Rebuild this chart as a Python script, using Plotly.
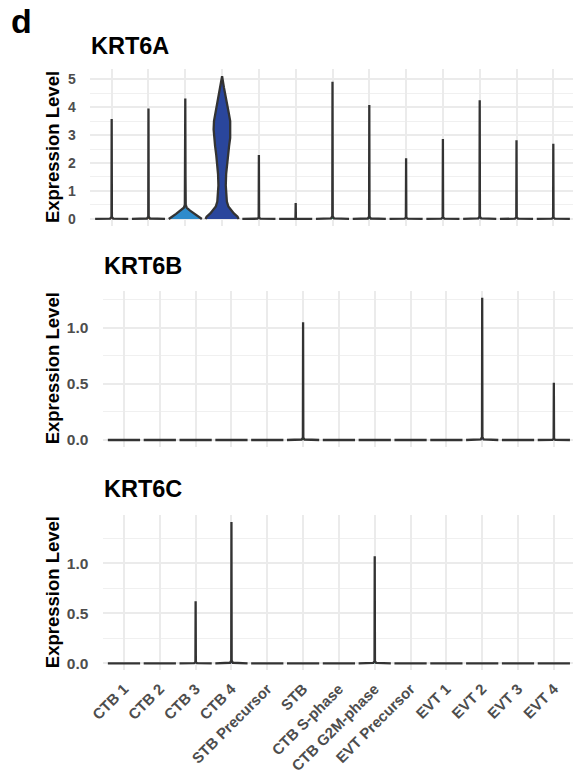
import plotly.graph_objects as go

# ---------------- data ----------------
categories = ["CTB 1", "CTB 2", "CTB 3", "CTB 4", "STB Precursor", "STB",
              "CTB S-phase", "CTB G2M-phase", "EVT Precursor",
              "EVT 1", "EVT 2", "EVT 3", "EVT 4"]

genes = ["KRT6A", "KRT6B", "KRT6C"]

# maximum expression (top of each violin)
krt6a_max = [3.57, 3.95, 4.30, 5.10, 2.29, 0.57, 4.90, 4.07, 2.17, 2.86, 4.24, 2.81, 2.69]
krt6b_max = [0, 0, 0, 0, 0, 1.05, 0, 0, 0, 0, 1.27, 0, 0.51]
krt6c_max = [0, 0, 0.62, 1.41, 0, 0, 0, 1.07, 0, 0, 0, 0, 0]

# density profiles (level, half-width in category units) of the visibly shaped violins
ctb3_a_levels = [0.0, 0.08, 0.18, 0.30, 0.40, 0.50, 1.50, 4.30]
ctb3_a_widths = [0.45, 0.36, 0.25, 0.13, 0.04, 0.012, 0.006, 0.0]

ctb4_a_levels = [0.0, 0.08, 0.20, 0.32, 0.45, 0.62, 0.90, 1.20, 1.60, 1.90,
                 2.30, 2.60, 2.90, 3.20, 3.50, 3.80, 4.10, 4.40, 4.70, 5.10]
ctb4_a_widths = [0.45, 0.42, 0.32, 0.24, 0.17, 0.13, 0.11, 0.10, 0.11, 0.13,
                 0.16, 0.19, 0.22, 0.23, 0.22, 0.18, 0.13, 0.09, 0.05, 0.0]

# generic profile of the nearly-all-zero violins (fraction of max for levels)
spike_level_frac = [0.0, 0.004, 0.02, 1.0]
spike_widths = [0.45, 0.04, 0.006, 0.0]

fill_colors = ["#F8766D", "#E18A00", "#2E8BCB", "#2A469C", "#7CAE00", "#0CB702",
               "#00BE67", "#00C19A", "#00BFC4", "#00B8E7", "#8494FF", "#ED68ED", "#FF68A1"]

# ---------------- layout geometry (pixels) ----------------
W, H = 573, 778
panels = [
    dict(x0=89.6, top=69.1, bot=226.1, yr=[-0.255, 5.355], tv=[0, 1, 2, 3, 4, 5],
         tt=["0", "1", "2", "3", "4", "5"], minor=0.5, tsize=14, title_x=89, title_y=45.5),
    dict(x0=102.5, top=290.6, bot=447.1, yr=[-0.0635, 1.3335], tv=[0, 0.5, 1.0],
         tt=["0.0", "0.5", "1.0"], minor=0.25, tsize=15.5, title_x=102.3, title_y=266),
    dict(x0=102.5, top=515.0, bot=670.4, yr=[-0.0705, 1.4805], tv=[0, 0.5, 1.0],
         tt=["0.0", "0.5", "1.0"], minor=0.25, tsize=15.5, title_x=102.3, title_y=489),
]
maxes = [krt6a_max, krt6b_max, krt6c_max]

fig = go.Figure()
LINE = "#333333"
FONT = "Liberation Sans, Arial, sans-serif"


def violin_poly(i, levels, widths):
    xs = [i + w for w in widths] + [i - w for w in reversed(widths)]
    ys = list(levels) + list(reversed(levels))
    return xs, ys


for p, (pan, mx) in enumerate(zip(panels, maxes)):
    ax = "" if p == 0 else str(p + 1)
    for i, m in enumerate(mx):
        if p == 0 and i == 2:
            xs, ys = violin_poly(i, ctb3_a_levels, ctb3_a_widths)
        elif p == 0 and i == 3:
            xs, ys = violin_poly(i, ctb4_a_levels, ctb4_a_widths)
        elif m > 0:
            xs, ys = violin_poly(i, [f * m for f in spike_level_frac], spike_widths)
        else:
            xs, ys = [i - 0.45, i + 0.45], [0, 0]
        fig.add_trace(go.Scatter(
            x=xs, y=ys, mode="lines", fill="toself" if len(xs) > 2 else None,
            fillcolor=fill_colors[i], line=dict(color=LINE, width=2.3),
            xaxis="x" + ax, yaxis="y" + ax, showlegend=False, hoverinfo="skip"))

    xdom = [pan["x0"] / W, 1.0]
    ydom = [1 - pan["bot"] / H, 1 - pan["top"] / H]
    fig.layout["xaxis" + ax] = dict(
        domain=xdom, range=[-0.6, 12.535], tickmode="array",
        tickvals=list(range(len(categories))), ticktext=categories,
        showticklabels=(p == 2), tickangle=-45, automargin=False,
        tickfont=dict(family=FONT, size=15, color="#4D4D4D", weight="bold"),
        showgrid=True, gridcolor="#EBEBEB", gridwidth=1.5, zeroline=False,
        showline=False, ticks="outside", ticklen=3, tickcolor="rgba(0,0,0,0)",
        anchor="y" + ax, fixedrange=True)
    fig.layout["yaxis" + ax] = dict(
        domain=ydom, range=pan["yr"], tickmode="array", tickvals=pan["tv"],
        ticktext=pan["tt"], automargin=False,
        tickfont=dict(family=FONT, size=pan["tsize"], color="#4D4D4D", weight="bold"),
        showgrid=True, gridcolor="#EBEBEB", gridwidth=1.5, zeroline=False,
        showline=False, ticks="outside", ticklen=10, tickcolor="rgba(0,0,0,0)",
        minor=dict(dtick=pan["minor"], tick0=0, showgrid=True, gridcolor="#F0F0F0",
                   gridwidth=1.2, ticks=""),
        anchor="x" + ax, fixedrange=True)

    fig.add_annotation(text=genes[p], xref="paper", yref="paper",
                       x=pan["title_x"] / W, y=1 - pan["title_y"] / H,
                       xanchor="left", yanchor="middle", showarrow=False,
                       font=dict(family=FONT, size=23.5, color="black", weight="bold"))
    fig.add_annotation(text="Expression Level", xref="paper", yref="paper",
                       x=52.5 / W, y=1 - (pan["top"] + pan["bot"]) / 2 / H,
                       xanchor="center", yanchor="middle", textangle=-90,
                       showarrow=False,
                       font=dict(family=FONT, size=18.5, color="black", weight="bold"))

fig.add_annotation(text="d", xref="paper", yref="paper", x=9 / W, y=1 - 21 / H,
                   xanchor="left", yanchor="middle", showarrow=False,
                   font=dict(family=FONT, size=34, color="black", weight="bold"))

fig.update_layout(width=W, height=H, margin=dict(l=0, r=0, t=0, b=0),
                  paper_bgcolor="white", plot_bgcolor="white", showlegend=False)

fig.write_html("out.html", config={"displayModeBar": False},
               post_script="document.body.style.margin='0';document.body.style.overflow='hidden';")
